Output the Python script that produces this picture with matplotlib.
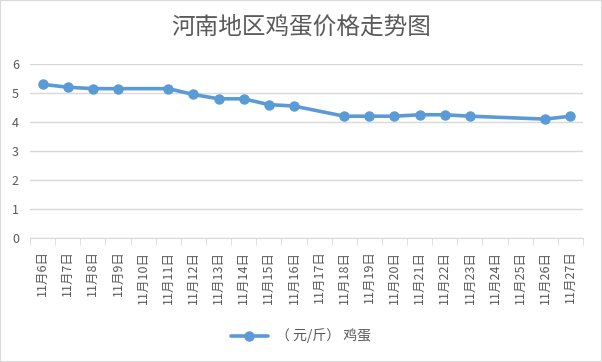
import numpy as np
import matplotlib
matplotlib.use("Agg")
import matplotlib.pyplot as plt
from matplotlib.patches import Rectangle

plt.rcParams["font.family"] = ["Noto Sans CJK SC", "DejaVu Sans"]

days = list(range(6, 28))
labels = [f"11月{d}日" for d in days]
# NaN = no quote that day (line joins across the gap)
prices = [5.3, 5.2, 5.15, 5.15, np.nan, 5.15, 4.95, 4.8, 4.8, 4.6, 4.55,
          np.nan, 4.2, 4.2, 4.2, 4.25, 4.25, 4.2, np.nan, np.nan, 4.1, 4.2]
series_name = "（ 元/斤） 鸡蛋"
title = "河南地区鸡蛋价格走势图"

blue = "#5B9BD5"
grey = "#595959"
grid = "#D9D9D9"

fig = plt.figure(figsize=(6.02, 3.62), dpi=100)
ax = fig.add_axes([30 / 602, 1 - 238 / 362, (583 - 30) / 602, (238 - 64) / 362])

x = np.arange(len(labels))
y = np.array(prices, dtype=float)
ok = ~np.isnan(y)
ax.plot(x[ok], y[ok], color=blue, lw=2.6, marker="o", ms=6.5,
        solid_capstyle="round", label=series_name)

ax.set_xlim(-0.5, len(labels) - 0.5)
ax.set_ylim(0, 6)
ax.set_yticks(range(0, 7))
ax.yaxis.grid(True, color=grid, lw=1)
ax.set_axisbelow(True)
for s in ["top", "right", "left"]:
    ax.spines[s].set_visible(False)
ax.spines["bottom"].set_color(grid)
ax.tick_params(axis="y", length=0, labelsize=9, labelcolor=grey, pad=8)

ax.set_xticks(x)
ax.set_xticklabels(labels, rotation=90, fontsize=9, color=grey)
ax.set_xticks(np.arange(-0.5, len(labels)), minor=True)
ax.tick_params(axis="x", which="major", length=0, pad=9)
ax.tick_params(axis="x", which="minor", length=5, color=grid)

fig.text(0.5, 1 - 27 / 362, title, ha="center", va="center",
         fontsize=17, color=grey, fontweight="light")

fig.legend(loc="center", bbox_to_anchor=(0.5, 1 - 336 / 362), frameon=False,
           fontsize=10, labelcolor=grey, handlelength=2.7, handletextpad=0.6)

fig.patches.append(Rectangle((0, 0), 1, 1, transform=fig.transFigure,
                             fill=False, ec=grid, lw=1.5))

fig.savefig("out.png", dpi=100)
